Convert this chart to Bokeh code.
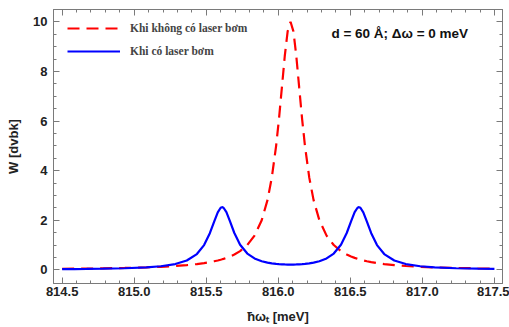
from bokeh.plotting import figure
from bokeh.models import (Range1d, FixedTicker, LinearAxis, Legend, LegendItem,
                          Label, NumeralTickFormatter, ColumnDataSource)
from bokeh.embed import file_html
from bokeh.resources import INLINE

# photon energy (meV)
energy = [814.5, 814.585, 814.67, 814.785, 814.935, 815.085, 815.185, 815.285,
          815.365, 815.435, 815.485, 815.525, 815.555, 815.58, 815.6, 815.61,
          815.62, 815.64, 815.665, 815.695, 815.735, 815.785, 815.835, 815.885,
          815.925, 815.955, 815.985, 816.005, 816.025, 816.045, 816.065,
          816.085,
          816.105, 816.125, 816.145, 816.165, 816.185, 816.215, 816.245, 816.285,
          816.335, 816.385, 816.435, 816.475, 816.505, 816.53, 816.55, 816.56,
          816.57, 816.59, 816.615, 816.645, 816.685, 816.735, 816.805, 816.885,
          816.985, 817.085, 817.235, 817.385, 817.5]

# W without pump laser (red dashed)
w_no_pump = [0.040, 0.044, 0.050, 0.059, 0.075, 0.099, 0.122, 0.154,
             0.189, 0.231, 0.270, 0.309, 0.344, 0.377, 0.408, 0.424,
             0.442, 0.481, 0.536, 0.617, 0.755, 1.000, 1.379, 2.000,
             2.809, 3.717, 5.000, 6.098, 7.353, 8.621, 9.615,
             10.0,
             9.615, 8.621, 7.353, 6.098, 5.000, 3.717, 2.809, 2.000,
             1.379, 1.000, 0.755, 0.617, 0.536, 0.481, 0.442, 0.424,
             0.408, 0.377, 0.344, 0.309, 0.270, 0.231, 0.189, 0.154,
             0.122, 0.099, 0.075, 0.059, 0.050]

# W with pump laser (blue solid)
w_pump = [0.026, 0.030, 0.035, 0.044, 0.063, 0.099, 0.144, 0.232,
          0.374, 0.635, 0.997, 1.475, 1.944, 2.319, 2.502, 2.527,
          2.503, 2.323, 1.950, 1.484, 1.012, 0.656, 0.459, 0.346,
          0.289, 0.260, 0.239, 0.229, 0.222, 0.216, 0.213,
          0.212,
          0.213, 0.216, 0.222, 0.229, 0.239, 0.260, 0.289, 0.346,
          0.459, 0.656, 1.012, 1.484, 1.950, 2.323, 2.503, 2.527,
          2.502, 2.319, 1.944, 1.475, 0.997, 0.635, 0.374, 0.232,
          0.144, 0.099, 0.063, 0.044, 0.035]

x_ticks = [814.5, 815.0, 815.5, 816.0, 816.5, 817.0, 817.5]
x_minor = [round(814.5 + 0.1 * i, 2) for i in range(31)]
y_ticks = [0, 2, 4, 6, 8, 10]
y_minor = [0.5 * i for i in range(21)]

legend_labels = ["Khi không có laser bơm", "Khi có laser bơm"]
note_text = "d = 60 Å; Δω = 0 meV"
x_title = "ħωₜ [meV]"
y_title = "W [dvbk]"

src = ColumnDataSource(data=dict(x=energy, r=w_no_pump, b=w_pump))

FRAME = "#7a7a7a"
SANS = "Liberation Sans"
INK = "#222222"

p = figure(width=509, height=327, output_backend="svg", toolbar_location=None,
           x_range=Range1d(814.44, 817.556), y_range=Range1d(-0.552, 10.496),
           min_border_left=53, min_border_right=7, min_border_top=9,
           min_border_bottom=44, background_fill_color="white",
           border_fill_color="white")
p.xgrid.visible = False
p.ygrid.visible = False
p.outline_line_color = FRAME
p.outline_line_width = 1

r1 = p.line("x", "r", source=src, line_color="#ff0000", line_width=2.2,
            line_dash="12 7")
r2 = p.line("x", "b", source=src, line_color="#0000ff", line_width=2.2)


def style_axis(ax, ticks, minor):
    ax.ticker = FixedTicker(ticks=ticks, minor_ticks=minor)
    ax.axis_line_color = FRAME
    ax.major_tick_line_color = FRAME
    ax.minor_tick_line_color = FRAME
    ax.major_tick_in = 6
    ax.major_tick_out = 0
    ax.minor_tick_in = 3
    ax.minor_tick_out = 0
    ax.major_label_text_font = SANS
    ax.major_label_text_font_style = "bold"
    ax.major_label_text_font_size = "13px"
    ax.major_label_text_color = INK
    ax.axis_label_text_font = SANS
    ax.axis_label_text_font_style = "bold"
    ax.axis_label_text_font_size = "13px"
    ax.axis_label_text_color = INK


def mirror_axis(ticks, tick_len):
    # frame ticks without labels (only "minor" ticks, so no label is drawn)
    ax = LinearAxis(ticker=FixedTicker(ticks=[], minor_ticks=ticks))
    ax.axis_line_color = FRAME
    ax.minor_tick_line_color = FRAME
    ax.minor_tick_in = tick_len
    ax.minor_tick_out = 0
    ax.major_tick_in = 0
    ax.major_tick_out = 0
    ax.major_label_standoff = 0
    ax.axis_label = None
    return ax


xa = p.xaxis[0]
style_axis(xa, x_ticks, x_minor)
xa.formatter = NumeralTickFormatter(format="0.0")
xa.major_label_standoff = 3
xa.axis_label = x_title
xa.axis_label_standoff = 10

ya = p.yaxis[0]
style_axis(ya, y_ticks, y_minor)
ya.major_label_standoff = 6
ya.axis_label = y_title
ya.axis_label_standoff = 9

p.add_layout(mirror_axis(x_minor, 3), "above")
p.add_layout(mirror_axis(x_ticks, 6), "above")
p.add_layout(mirror_axis(y_minor, 3), "right")
p.add_layout(mirror_axis(y_ticks, 6), "right")

legend = Legend(items=[LegendItem(label=legend_labels[0], renderers=[r1]),
                       LegendItem(label=legend_labels[1], renderers=[r2])],
                location=(14, 222), background_fill_alpha=0,
                border_line_color=None, padding=0, margin=0, spacing=3,
                glyph_width=53, glyph_height=20, label_height=20,
                label_standoff=10, label_text_font="Liberation Serif",
                label_text_font_style="bold", label_text_font_size="11.5px")
p.add_layout(legend)

note = Label(x=816.369, y=9.53, text=note_text, text_font=SANS,
             text_font_style="bold", text_font_size="13.5px",
             text_baseline="middle", text_align="left", text_color="#111111")
p.add_layout(note)

open("out.html", "w").write(file_html(p, INLINE))
